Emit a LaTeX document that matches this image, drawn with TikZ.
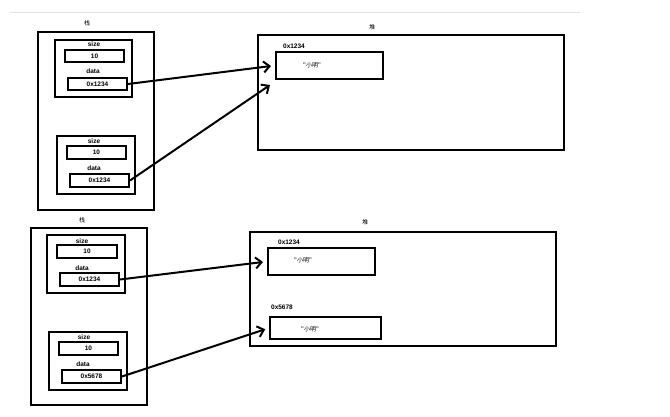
\documentclass[tikz,border=0pt]{standalone}
\usepackage{fontspec}
\setmainfont{Liberation Sans}
\newfontfamily\cjk{Noto Sans CJK SC}
\usetikzlibrary{arrows.meta}
\tikzset{
  box/.style={draw=black, line width=2pt, inner sep=0pt, fill=none},
  lbl/.style={font=\bfseries\fontsize{6.5}{7}\selectfont, inner sep=0pt},
  clbl/.style={font=\cjk\fontsize{6}{7}\selectfont, inner sep=0pt},
  ptr/.style={line width=2pt, -{Straight Barb[length=6pt,width=11pt,line width=2pt]}, shorten >=4pt},
}
\begin{document}
\begin{tikzpicture}[x=1pt, y=-1pt]
\useasboundingbox (0,0) rectangle (670,416);
\draw[black!12, line width=0.8pt] (10,12) -- (580,12);

% ---------- top: stack ----------
\node[clbl] (st1) at (87,23) {栈};
\node[box, minimum width=116pt, minimum height=178pt] (S1) at (96,121) {};
\node[box, minimum width=77pt, minimum height=57pt] (S1a) at (93.5,68.5) {};
\node[lbl] (S1as) at (94,44) {size};
\node[box, lbl, minimum width=59pt, minimum height=12pt] (S1av) at (94.5,56) {10};
\node[lbl] (S1ad) at (93,71) {data};
\node[box, lbl, minimum width=59pt, minimum height=12pt] (S1ap) at (97.5,84) {0x1234};
\node[box, minimum width=78pt, minimum height=58pt] (S1b) at (96,165) {};
\node[lbl] (S1bs) at (94,141) {size};
\node[box, lbl, minimum width=59pt, minimum height=13pt] (S1bv) at (96.5,152.5) {10};
\node[lbl] (S1bd) at (94,168) {data};
\node[box, lbl, minimum width=59pt, minimum height=13pt] (S1bp) at (99.5,180.5) {0x1234};

% ---------- top: heap ----------
\node[clbl] (hp1) at (372,27) {堆};
\node[box, minimum width=306pt, minimum height=115pt] (H1) at (411,92.5) {};
\node[lbl] (H1aa) at (294,46) {0x1234};
\node[box, minimum width=107pt, minimum height=27pt] (H1a) at (329.5,65.5) {};
\node[clbl] (H1at) at (312,65) {"小明"};
\coordinate (H1in) at (270,85);

\draw[ptr] (S1ap.east) -- (H1a.west);
\draw[ptr, shorten >=0pt] (S1bp.east) -- (H1in);

% ---------- bottom: stack ----------
\node[clbl] (st2) at (82,220) {栈};
\node[box, minimum width=116pt, minimum height=177pt] (S2) at (89,316.5) {};
\node[box, minimum width=78pt, minimum height=58pt] (S2a) at (86,264) {};
\node[lbl] (S2as) at (82,241) {size};
\node[box, lbl, minimum width=60pt, minimum height=13pt] (S2av) at (87,251.5) {10};
\node[lbl] (S2ad) at (82,268) {data};
\node[box, lbl, minimum width=59pt, minimum height=13pt] (S2ap) at (89.5,279.5) {0x1234};
\node[box, minimum width=78pt, minimum height=58pt] (S2b) at (88,361) {};
\node[lbl] (S2bs) at (84,337) {size};
\node[box, lbl, minimum width=59pt, minimum height=13pt] (S2bv) at (88.5,348.5) {10};
\node[lbl] (S2bd) at (83,364) {data};
\node[box, lbl, minimum width=59pt, minimum height=13pt] (S2bp) at (91.5,376.5) {0x5678};

% ---------- bottom: heap ----------
\node[clbl] (hp2) at (365,222) {堆};
\node[box, minimum width=306pt, minimum height=114pt] (H2) at (403,289) {};
\node[lbl] (H2aa) at (289,242) {0x1234};
\node[box, minimum width=107pt, minimum height=27pt] (H2a) at (321.5,261.5) {};
\node[clbl] (H2at) at (303,260) {"小明"};
\node[lbl] (H2ba) at (282,307) {0x5678};
\node[box, minimum width=111pt, minimum height=22pt] (H2b) at (325.5,328) {};
\node[clbl] (H2bt) at (310,329) {"小明"};

\draw[ptr] (S2ap.east) -- (H2a.west);
\draw[ptr] (S2bp.east) -- (H2b.west);
\end{tikzpicture}
\end{document}
